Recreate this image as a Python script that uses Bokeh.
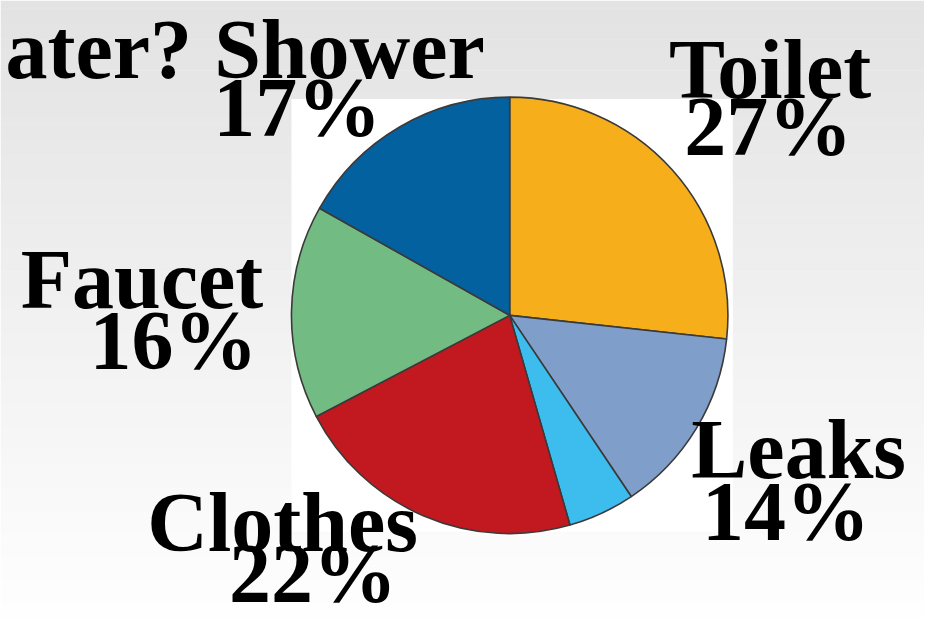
import numpy as np
from bokeh.plotting import figure
from bokeh.models import Range1d, ColumnDataSource
from bokeh.core.properties import value
from bokeh.embed import file_html
from bokeh.resources import INLINE

# ---- data ----
categories = ["Toilet", "Leaks", "Other", "Clothes", "Faucet", "Shower"]
shares = [27, 14, 5, 22, 16, 17]
colors = ["#F7AE1B", "#7F9ECA", "#3DBDEE", "#C1191F", "#72BB82", "#0461A0"]
label_names = ["Toilet", "Leaks", "Clothes", "Faucet", "Shower"]
label_pcts = ["27%", "14%", "22%", "16%", "17%"]

W, H = 940, 635
p = figure(width=924, height=619, output_backend="svg", toolbar_location=None,
           x_range=Range1d(0, W), y_range=Range1d(0, H), min_border=0)
p.axis.visible = False
p.grid.visible = False
p.outline_line_color = None
p.border_fill_color = "#ffffff"

# background vertical gradient (style only)
n = 80
ys = np.linspace(0, H, n + 1)
c0, c1 = np.array([0xE3, 0xE3, 0xE3]), np.array([0xFF, 0xFF, 0xFF])
for i in range(n):
    t = i / n
    c = (c0 * (1 - t) + c1 * t).astype(int)
    col = "#%02x%02x%02x" % tuple(c)
    p.quad(left=0, right=W, top=H - ys[i], bottom=H - ys[i + 1] - 0.5,
           fill_color=col, line_color=None)

# white panel behind pie
p.quad(left=296, right=745, top=H - 101, bottom=H - 545, fill_color="#ffffff", line_color=None)

# pie
vals = np.array(shares, dtype=float)
frac = vals / vals.sum()
cum = np.concatenate([[0], np.cumsum(frac)])
start = np.pi / 2 - cum[1:] * 2 * np.pi
end = np.pi / 2 - cum[:-1] * 2 * np.pi
src = ColumnDataSource(dict(start=start, end=end, color=colors, cat=categories))
cx, cy, r = 518, H - 323, 222
p.wedge(x=cx, y=cy, radius=r, start_angle="start", end_angle="end", source=src,
        fill_color="color", line_color="#3a3a3a", line_width=1.6, direction="anticlock")

# labels (baseline positions in reference pixels; renderer offset compensated)
font = value("Liberation Serif")
dy = 29
name_pos = {"Toilet": (783, 100), "Leaks": (812, 490), "Clothes": (287, 565),
            "Faucet": (144, 315), "Shower": (355, 79)}
pct_pos = {"Toilet": (781, 158), "Leaks": (799, 553), "Clothes": (318, 617),
           "Faucet": (176, 378), "Shower": (302, 139)}

def label(x, y, s, align="center"):
    p.text(x=[x], y=[H - y + dy], text=[s], text_font=font, text_font_size="84px",
           text_font_style="bold", text_align=align, text_baseline="alphabetic",
           text_color="#000000")

for nm, pc in zip(label_names, label_pcts):
    label(*name_pos[nm], nm)
    label(*pct_pos[nm], pc)

label(5, 79, "ater?", align="left")

open("out.html", "w").write(file_html(p, INLINE))
